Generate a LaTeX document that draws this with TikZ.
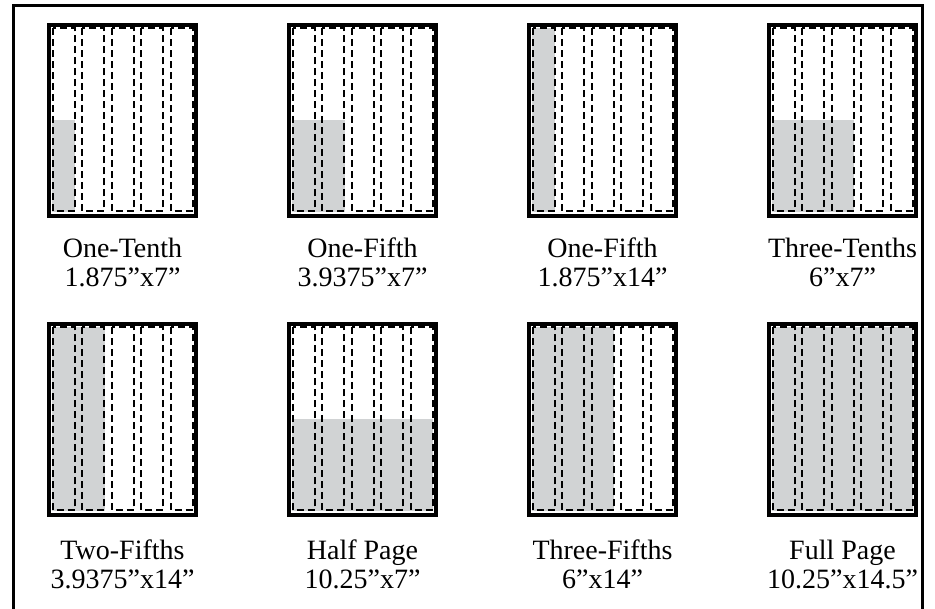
\documentclass[tikz,border=0pt]{standalone}
\usepackage{fontspec}
\setmainfont{Liberation Serif}
\definecolor{pagegray}{HTML}{D1D3D4}

\tikzset{
  frame/.style={line width=3pt},
  pagebox/.style={draw, line width=3.2pt, minimum width=147pt, minimum height=191pt, inner sep=0pt},
  colline/.style={line width=2pt, dash pattern=on 7pt off 4pt},
  sizelabel/.style={align=center, inner sep=0pt, anchor=north, font=\fontsize{28}{28.5}\selectfont}
}

% name, left, top, shaded columns, top of the shading (0 full, 0.5 lower half)
\newcommand{\pagesketch}[5]{%
  \fill[pagegray] ({#2+3},{#3+3+#5*184}) rectangle ({#2+3+(#4-1)*29.5+23},{#3+187});
  \foreach \c in {0,...,4}{
    \draw[colline] ({#2+3.5+\c*29.5},{#3+3.5}) rectangle ({#2+25.5+\c*29.5},{#3+186.5});
  }
  \node[pagebox] (#1) at ({#2+73.5},{#3+95.5}) {};
}

\begin{document}
\begin{tikzpicture}[x=1pt,y=-1pt]
\useasboundingbox (0,0) rectangle (935,609);

\draw[frame] (13,609) -- (13,6) -- (922,6) -- (922,609);

\pagesketch{tenth}{49}{25}{1}{0.5}
\pagesketch{fifthwide}{289}{25}{2}{0.5}
\pagesketch{fifthtall}{529}{25}{1}{0}
\pagesketch{threetenths}{769}{25}{3}{0.5}
\pagesketch{twofifths}{49}{324}{2}{0}
\pagesketch{halfpage}{289}{324}{5}{0.5}
\pagesketch{threefifths}{529}{324}{3}{0}
\pagesketch{fullpage}{769}{324}{5}{0}

\node[sizelabel] (tenthtext) at (122.5,238) {One-Tenth\\1.875''x7''};
\node[sizelabel] (fifthwidetext) at (362.5,238) {One-Fifth\\3.9375''x7''};
\node[sizelabel] (fifthtalltext) at (602.5,238) {One-Fifth\\1.875''x14''};
\node[sizelabel] (threetenthstext) at (842.5,238) {Three-Tenths\\6''x7''};
\node[sizelabel] (twofifthstext) at (122.5,540) {Two-Fifths\\3.9375''x14''};
\node[sizelabel] (halfpagetext) at (362.5,540) {Half Page\\10.25''x7''};
\node[sizelabel] (threefifthstext) at (602.5,540) {Three-Fifths\\6''x14''};
\node[sizelabel] (fullpagetext) at (842.5,540) {Full Page\\10.25''x14.5''};
\end{tikzpicture}
\end{document}
